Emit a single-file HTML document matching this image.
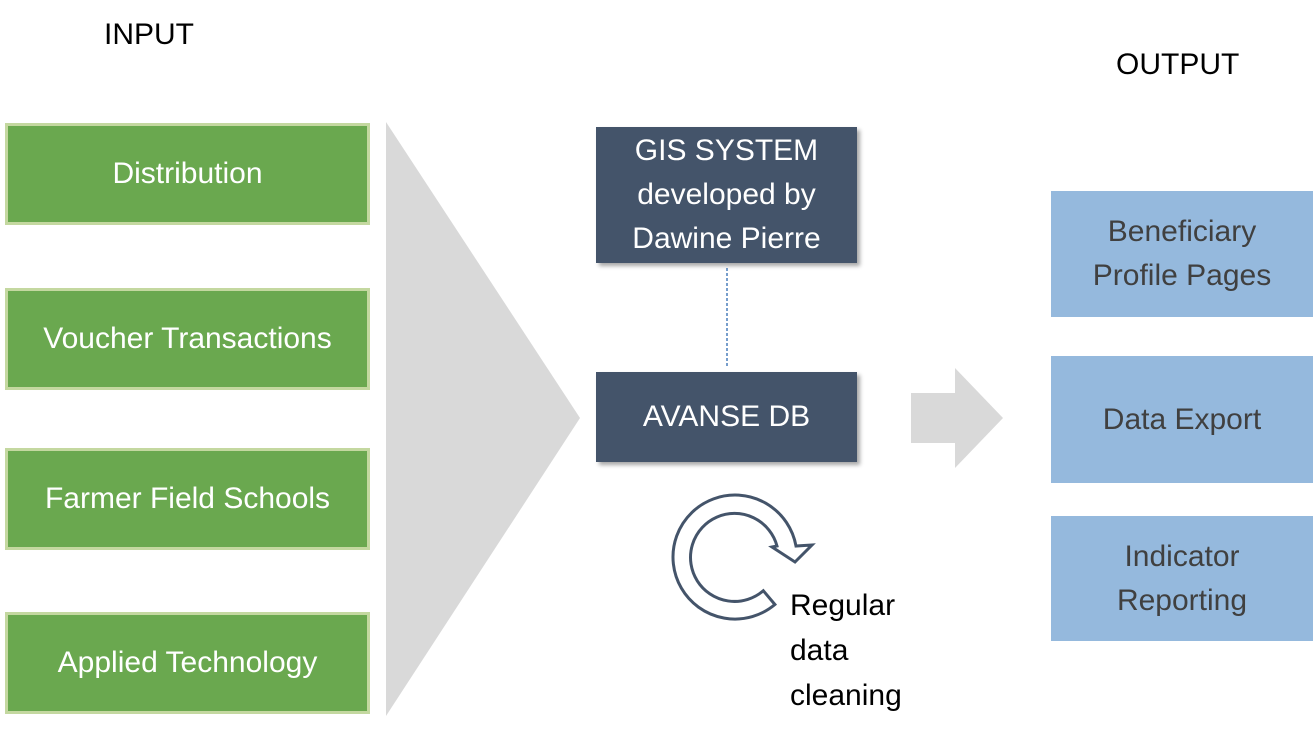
<!DOCTYPE html>
<html><head><meta charset="utf-8"><style>
body{margin:0;width:1313px;height:739px;background:#fff;position:relative;overflow:hidden;font-family:"Liberation Sans",sans-serif;}
.t{position:absolute;font-size:30px;color:#000;}
.g{position:absolute;left:5px;width:359px;height:96px;background:#6aa84f;border:3px solid #c4d8a0;color:#fff;font-size:30px;display:flex;align-items:center;justify-content:center;}
.d{position:absolute;left:596px;width:261px;background:#44546a;color:#fff;font-size:30px;display:flex;align-items:center;justify-content:center;text-align:center;line-height:44px;box-shadow:3px 3px 4px rgba(0,0,0,0.35);}
.b{position:absolute;left:1051px;width:262px;background:#95b9dd;color:#404040;font-size:30px;display:flex;align-items:center;justify-content:center;text-align:center;line-height:44px;}
</style></head><body>
<div class="t" style="left:104px;top:18px;">INPUT</div>
<div class="t" style="left:1116px;top:48px;">OUTPUT</div>
<svg width="1313" height="739" style="position:absolute;left:0;top:0">
<polygon points="386,122 580,418 386,716" fill="#d9d9d9"/>
<polygon points="911,393 955,393 955,368 1003,418 955,468 955,443 911,443" fill="#d9d9d9"/>
<line x1="727" y1="268" x2="727" y2="368" stroke="#4a7ebb" stroke-width="1.5" stroke-dasharray="3,2"/>
<path d="M763.3,590.7 A44 44 0 1 1 777,546 L772,547 L795,562 L812,545 L796,546 A62 62 0 1 0 774.9,604.5 Z" fill="#fff" stroke="#44546a" stroke-width="3" stroke-linejoin="miter"/>
</svg>
<div class="g" style="top:123px;">Distribution</div>
<div class="g" style="top:288px;">Voucher Transactions</div>
<div class="g" style="top:448px;">Farmer Field Schools</div>
<div class="g" style="top:612px;">Applied Technology</div>
<div class="d" style="top:127px;height:136px;">GIS SYSTEM<br>developed by<br>Dawine Pierre</div>
<div class="d" style="top:372px;height:90px;">AVANSE DB</div>
<div class="b" style="top:191px;height:126px;">Beneficiary<br>Profile Pages</div>
<div class="b" style="top:356px;height:127px;">Data Export</div>
<div class="b" style="top:516px;height:125px;">Indicator<br>Reporting</div>
<div class="t" style="left:790px;top:583px;line-height:45px;">Regular<br>data<br>cleaning</div>
</body></html>
